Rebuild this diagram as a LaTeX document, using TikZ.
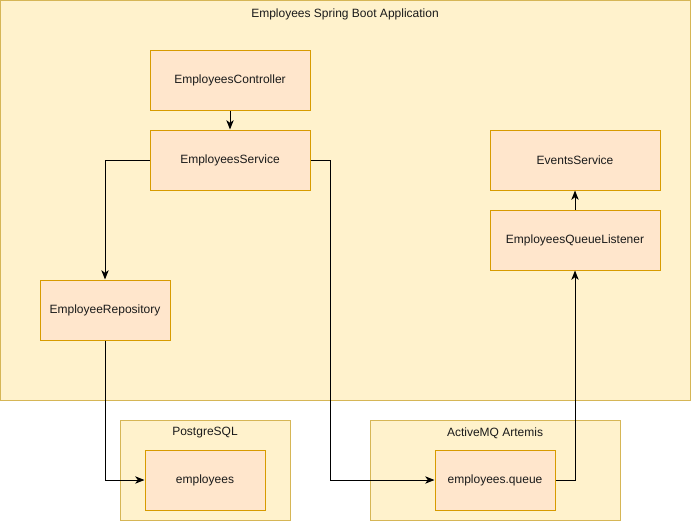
\documentclass[tikz,border=0pt]{standalone}
\usepackage{fontspec}
\setmainfont{Liberation Sans}
\usetikzlibrary{arrows.meta}
\definecolor{contfill}{HTML}{FFF2CC}
\definecolor{contdraw}{HTML}{D6B656}
\definecolor{boxfill}{HTML}{FFE6CC}
\definecolor{boxdraw}{HTML}{D79B00}
\definecolor{txt}{HTML}{1A1A1A}
\tikzset{
  cont/.style={draw=contdraw, fill=contfill, line width=0.75pt, inner sep=0pt},
  comp/.style={draw=boxdraw, fill=boxfill, line width=0.75pt, inner sep=0pt, minimum height=45pt, text=txt, font=\fontsize{9pt}{11pt}\selectfont},
  ttl/.style={text=txt, inner sep=0pt, font=\fontsize{9pt}{11pt}\selectfont},
  conn/.style={line width=0.75pt, -{Stealth[length=7pt,width=5.5pt,inset=2pt]}},
}
\begin{document}
\begin{tikzpicture}[x=0.75pt,y=-0.75pt]
\useasboundingbox (0,0) rectangle (691,521);
% containers
\node[cont, minimum width=517.5pt, minimum height=300pt] (app) at (345,200) {};
\node[ttl] (apptitle) at (345,14) {Employees Spring Boot Application};
\node[cont, minimum width=127.5pt, minimum height=75pt] (pg) at (205,470) {};
\node[ttl] (pgtitle) at (205,433) {PostgreSQL};
\node[cont, minimum width=187.5pt, minimum height=75pt] (mq) at (495,470) {};
\node[ttl] (mqtitle) at (495,433) {ActiveMQ Artemis};
% components
\node[comp, minimum width=120pt] (ctrl) at (230,80) {EmployeesController};
\node[comp, minimum width=120pt] (svc) at (230,160) {EmployeesService};
\node[comp, minimum width=97.5pt] (repo) at (105,310) {EmployeeRepository};
\node[comp, minimum width=127.5pt] (events) at (575,160) {EventsService};
\node[comp, minimum width=127.5pt] (listener) at (575,240) {EmployeesQueueListener};
\node[comp, minimum width=90pt] (emp) at (205,480) {employees};
\node[comp, minimum width=90pt] (queue) at (495,480) {employees.queue};
% connectors
\draw[conn] (ctrl.south) -- (svc.north);
\draw[conn] (svc.west) -| (repo.north);
\draw[conn] (svc.east) -- ++(20,0) |- (queue.west);
\draw[conn] (repo.south) |- (emp.west);
\draw[conn] (queue.east) -| (listener.south);
\draw[conn] (listener.north) -- (events.south);
\end{tikzpicture}
\end{document}
